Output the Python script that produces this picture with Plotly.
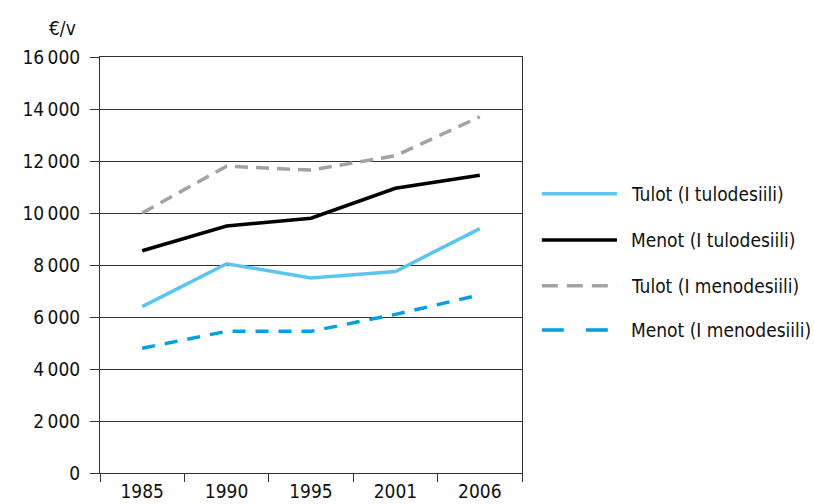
import plotly.graph_objects as go

years = ["1985", "1990", "1995", "2001", "2006"]
tulot_tulodesiili = [6400, 8050, 7500, 7750, 9400]
menot_tulodesiili = [8550, 9500, 9800, 10950, 11450]
tulot_menodesiili = [10000, 11800, 11650, 12200, 13700]
menot_menodesiili = [4800, 5450, 5450, 6100, 6850]

y_ticks = [0, 2000, 4000, 6000, 8000, 10000, 12000, 14000, 16000]
y_ticktext = ["0", "2\u2009000", "4\u2009000", "6\u2009000", "8\u2009000",
              "10\u2009000", "12\u2009000", "14\u2009000", "16\u2009000"]

FONT = "DejaVu Sans Condensed, Roboto, sans-serif"
FS = 19

series = [
    ("Tulot (I tulodesiili)", tulot_tulodesiili, "#5bc5f2", "solid", "solid"),
    ("Menot (I tulodesiili)", menot_tulodesiili, "#000000", "solid", "solid"),
    ("Tulot (I menodesiili)", tulot_menodesiili, "#a3a3a3", "13px,8px", "16px,9px"),
    ("Menot (I menodesiili)", menot_menodesiili, "#009fe3", "13px,10px", "22px,22px"),
]

fig = go.Figure()
for name, vals, color, dash, _ in series:
    fig.add_trace(go.Scatter(
        x=years, y=vals, name=name, mode="lines",
        line=dict(color=color, width=3.5, dash=dash),
        showlegend=False,
    ))

# manual legend (long line symbols like the reference)
legend_y = [0.671, 0.560, 0.450, 0.344]
shapes = []
annotations = []
for (name, _, color, _, ldash), ly in zip(series, legend_y):
    shapes.append(dict(
        type="line", xref="paper", yref="paper",
        x0=1.047, x1=1.225, y0=ly, y1=ly,
        line=dict(color=color, width=3.5, dash=ldash),
    ))
    annotations.append(dict(
        text=name, xref="paper", yref="paper", x=1.254, y=ly,
        xanchor="left", yanchor="middle", showarrow=False,
        font=dict(family=FONT, size=FS, color="#111111"),
    ))

annotations.append(dict(
    text="€/v", xref="paper", yref="paper", x=-0.09, y=1.07,
    xanchor="center", yanchor="middle", showarrow=False,
    font=dict(family=FONT, size=FS, color="#111111"),
))

fig.update_layout(
    width=814, height=504,
    margin=dict(l=100, r=292, t=57, b=31, pad=0),
    paper_bgcolor="white", plot_bgcolor="white",
    font=dict(family=FONT, size=FS, color="#111111"),
    showlegend=False,
    xaxis=dict(
        type="category", range=[-0.5, 4.5], tickson="boundaries",
        ticks="outside", ticklen=8, automargin=False, ticklabelstandoff=1,
        tickcolor="#333333", showline=True, linecolor="#333333", linewidth=1,
        mirror=True, showgrid=False, zeroline=False,
        tickfont=dict(family=FONT, size=FS, color="#111111"),
    ),
    yaxis=dict(
        range=[0, 16000], tickvals=y_ticks, ticktext=y_ticktext,
        ticks="outside", ticklen=9, tickcolor="#333333",
        ticklabelstandoff=6, automargin=False,
        showline=True, linecolor="#333333", linewidth=1, mirror=True,
        showgrid=True, gridcolor="#333333", gridwidth=1, zeroline=False,
        tickfont=dict(family=FONT, size=FS, color="#111111"),
    ),
    shapes=shapes,
    annotations=annotations,
)

fig.write_html(
    "out.html",
    config={"displayModeBar": False},
    post_script="document.body.style.margin='0';document.body.style.overflow='hidden';",
)
